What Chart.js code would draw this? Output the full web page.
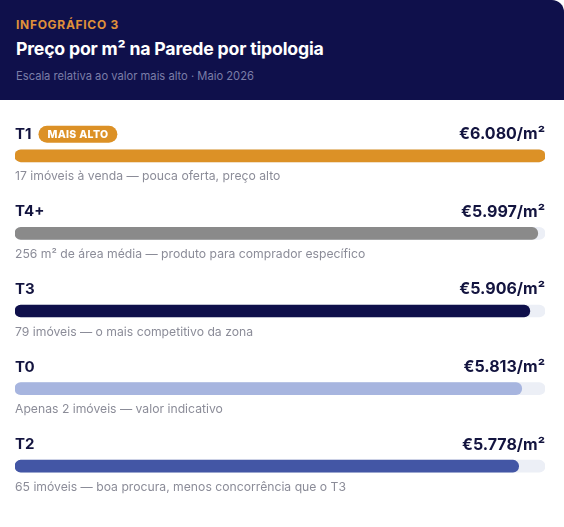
<!DOCTYPE html>
<html lang="pt">
<head>
<meta charset="utf-8">
<script src="https://cdn.jsdelivr.net/npm/chart.js@4"></script>
<style>
  html, body { margin: 0; padding: 0; background: #ffffff; }
  body { width: 564px; height: 527px; overflow: hidden; font-family: Inter, "Noto Sans", sans-serif; }
  .card { position: relative; width: 564px; height: 527px; background: #fff; border-radius: 0 12px 12px 0; overflow: hidden; }
  .header { height: 100px; background: #0f104b; box-sizing: border-box; padding: 17px 16px 0 16px; }
  .kicker { color: #e0913a; font-size: 12px; font-weight: 700; letter-spacing: 0.7px; line-height: 16px; }
  .title { color: #ffffff; font-size: 17.7px; font-weight: 700; line-height: 24px; margin-top: 4px; letter-spacing: -0.2px; }
  .sub { color: #7b7ea8; font-size: 11.2px; line-height: 16px; margin-top: 7px; }
  .body { position: relative; width: 564px; height: 427px; }
</style>
</head>
<body>
<div class="card">
  <div class="header">
    <div class="kicker">INFOGRÁFICO 3</div>
    <div class="title">Preço por m² na Parede por tipologia</div>
    <div class="sub">Escala relativa ao valor mais alto · Maio 2026</div>
  </div>
  <div class="body"><canvas id="chart"></canvas></div>
</div>
<script>
// dados (€/m², Maio 2026)
const tipologias = ["T1", "T4+", "T3", "T0", "T2"];
const precos = [6080, 5997, 5906, 5813, 5778];
const notas = [
  "17 imóveis à venda — pouca oferta, preço alto",
  "256 m² de área média — produto para comprador específico",
  "79 imóveis — o mais competitivo da zona",
  "Apenas 2 imóveis — valor indicativo",
  "65 imóveis — boa procura, menos concorrência que o T3"
];
const badgeTexto = "MAIS ALTO";

const cores = ["#dc9126", "#8a8a8a", "#0f104b", "#a7b5df", "#4356a5"];
const corTrilho = "#eceff6";

const maxPreco = Math.max(...precos);
const destaque = precos.indexOf(maxPreco);

function formatPreco(v) {
  return "€" + String(v).replace(/\B(?=(\d{3})+(?!\d))/g, ".") + "/m²";
}

// texto por cima e por baixo de cada barra
const rotulosPlugin = {
  id: "rotulos",
  afterDatasetsDraw(chart) {
    const ctx = chart.ctx;
    const area = chart.chartArea;
    const meta = chart.getDatasetMeta(0);
    ctx.save();
    meta.data.forEach((bar, i) => {
      const yTop = bar.y - 21.5;
      const yBottom = bar.y + 21;

      ctx.textBaseline = "middle";
      ctx.fillStyle = "#13143f";
      ctx.font = "700 15px Inter";
      ctx.textAlign = "left";
      ctx.fillText(tipologias[i], area.left, yTop);

      if (i === destaque) {
        const w0 = ctx.measureText(tipologias[i]).width;
        ctx.font = "800 10.5px Inter";
        ctx.letterSpacing = "0.3px";
        const tw = ctx.measureText(badgeTexto).width;
        const bx = area.left + w0 + 7;
        const bw = tw + 18;
        const bh = 17;
        ctx.fillStyle = "#dc9126";
        ctx.beginPath();
        ctx.roundRect(bx, yTop - bh / 2, bw, bh, bh / 2);
        ctx.fill();
        ctx.fillStyle = "#ffffff";
        ctx.fillText(badgeTexto, bx + 9, yTop + 0.5);
        ctx.letterSpacing = "0px";
      }

      ctx.fillStyle = "#13143f";
      ctx.font = "700 16px Inter";
      ctx.textAlign = "right";
      ctx.fillText(formatPreco(precos[i]), area.right, yTop);

      ctx.fillStyle = "#8b8c98";
      ctx.font = "400 12.2px Inter";
      ctx.textAlign = "left";
      ctx.fillText(notas[i], area.left, yBottom);
    });
    ctx.restore();
  }
};

new Chart(document.getElementById("chart"), {
  type: "bar",
  data: {
    labels: tipologias,
    datasets: [
      {
        data: precos,
        backgroundColor: cores,
        barThickness: 12,
        borderRadius: 6,
        borderSkipped: false,
        grouped: false
      },
      {
        data: tipologias.map(() => maxPreco),
        backgroundColor: corTrilho,
        barThickness: 12,
        borderRadius: 6,
        borderSkipped: false,
        grouped: false
      }
    ]
  },
  options: {
    indexAxis: "y",
    responsive: true,
    maintainAspectRatio: false,
    animation: false,
    layout: { padding: { left: 15, right: 19, top: 17, bottom: 22 } },
    scales: {
      x: { display: false, min: 0, max: maxPreco },
      y: { display: false }
    },
    plugins: {
      legend: { display: false },
      tooltip: { enabled: false }
    }
  },
  plugins: [rotulosPlugin]
});
</script>
</body>
</html>
